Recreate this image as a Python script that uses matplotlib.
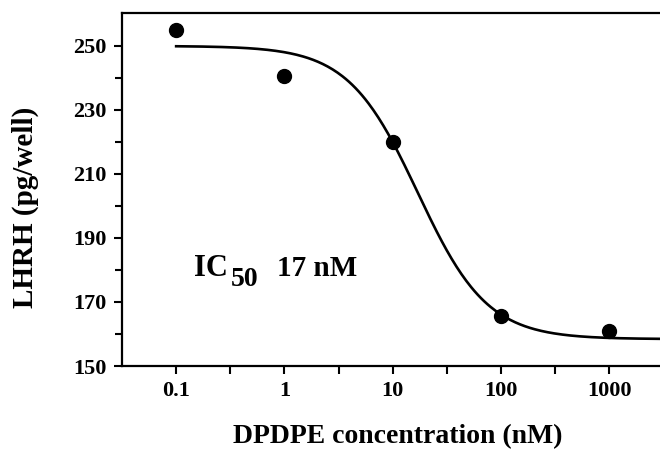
import numpy as np
import matplotlib
matplotlib.use("Agg")
import matplotlib.pyplot as plt
from matplotlib.ticker import FixedLocator, NullFormatter

plt.rcParams['font.family'] = ['Liberation Serif', 'DejaVu Serif']
plt.rcParams['font.weight'] = 'bold'

# Data
conc = [0.1, 1, 10, 100, 1000]          # DPDPE, nM
lhrh = [255, 240.5, 220, 165.5, 161]    # pg/well

# Fitted sigmoid parameters
top = 250.0
bottom = 158.4
ic50 = 17.0
hill = 1.35

xticks = [0.1, 1, 10, 100, 1000]
xticklabels = ["0.1", "1", "10", "100", "1000"]
yticks = [150, 170, 190, 210, 230, 250]

fig = plt.figure(figsize=(6.6, 4.5), dpi=100)
ax = fig.add_axes([122/660, 1-366/450, 541.5/660, (366-13)/450])

xs = np.logspace(-1, 3.5, 300)
ys = bottom + (top - bottom) / (1 + (xs/ic50)**hill)
ax.plot(xs, ys, color="black", lw=1.9)
ax.plot(conc, lhrh, "o", color="black", ms=10)

ax.set_xscale("log")
ax.set_xlim(10**-1.5, 10**3.5)
ax.set_ylim(150, 260.3)

ax.xaxis.set_major_locator(FixedLocator(xticks))
ax.set_xticklabels(xticklabels)
ax.xaxis.set_minor_locator(FixedLocator([10**(k+0.5) for k in range(-1, 3)]))
ax.xaxis.set_minor_formatter(NullFormatter())
ax.set_yticks(yticks)
ax.yaxis.set_minor_locator(FixedLocator([160, 180, 200, 220, 240]))

ax.tick_params(which="both", direction="out", width=1.5, labelsize=16)
ax.tick_params(axis="x", which="both", length=6, pad=5)
ax.tick_params(axis="y", which="major", length=6, pad=5)
ax.tick_params(axis="y", which="minor", length=5)

for s in ["left", "bottom", "top"]:
    ax.spines[s].set_linewidth(1.6)
ax.spines["right"].set_visible(False)

# IC50 annotation
fig.text(194/660, 1-276/450, "IC", fontsize=22, fontweight="bold", va="baseline")
fig.text(231/660, 1-286/450, "50", fontsize=20, fontweight="bold", va="baseline")
fig.text(277/660, 1-276/450, "17 nM", fontsize=21, fontweight="bold", va="baseline")

fig.text(398/660, 1-437/450, "DPDPE concentration (nM)", fontsize=20,
         fontweight="bold", ha="center", va="center")
fig.text(25/660, 1-207/450, "LHRH (pg/well)", fontsize=21, fontweight="bold",
         ha="center", va="center", rotation=90)

fig.savefig("out.png", dpi=100)
